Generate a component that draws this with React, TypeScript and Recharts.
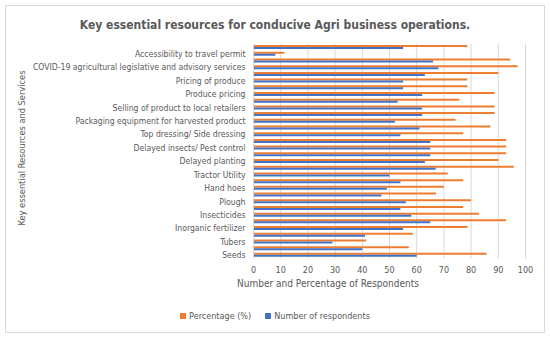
import React from "react";
import { BarChart, Bar, XAxis, YAxis, CartesianGrid } from "recharts";

// bottom-to-top order (as in the source spreadsheet)
const categories = [
  "Seeds",
  "Seedlings",
  "Tubers",
  "Organic fertilizer",
  "Inorganic fertilizer",
  "Pesticides",
  "Insecticides",
  "Herbicides",
  "Plough",
  "Harrow",
  "Hand hoes",
  "Spades",
  "Tractor Utility",
  "Irrigation water",
  "Delayed planting",
  "Delayed weeding",
  "Delayed insects/ Pest control",
  "Delayed harvesting",
  "Top dressing/ Side dressing",
  "Labour",
  "Packaging equipment for harvested product",
  "Storage facilities",
  "Selling of product to local retailers",
  "Selling of product to markets",
  "Produce pricing",
  "Transport to markets",
  "Pricing of produce",
  "Access to credit",
  "COVID-19 agricultural legislative and advisory services",
  "Extension services",
  "Accessibility to travel permit",
  "Access to markets",
];

const percentage = [
  85.7, 57.1, 41.4, 58.6, 78.6, 92.9, 82.9, 77.1, 80, 67.1, 70, 77.1, 71.4, 95.7, 90, 92.9,
  92.9, 92.9, 77.1, 87.1, 74.3, 88.6, 88.6, 75.7, 88.6, 78.6, 78.6, 90, 97.1, 94.3, 11.4, 78.6,
];

const respondents = [
  60, 40, 29, 41, 55, 65, 58, 54, 56, 47, 49, 54, 50, 67, 63, 65,
  65, 65, 54, 61, 52, 62, 62, 53, 62, 55, 55, 63, 68, 66, 8, 55,
];

const xTicks = [0, 10, 20, 30, 40, 50, 60, 70, 80, 90, 100];

const seriesNames = ["Percentage (%)", "Number of respondents"];
const seriesColors = ["#ED7D31", "#4472C4"];

const data = categories.map((name, i) => ({
  name,
  pct: percentage[i],
  num: respondents[i],
}));

const FONT = "'Liberation Sans Narrow', 'DejaVu Sans Condensed', sans-serif";
const GRAY = "#595959";

const CategoryTick = (props: any) => {
  const { x, y, payload } = props;
  return (
    <text x={x} y={y} dy={3} textAnchor="end" fontSize={8.6} fill={GRAY} fontFamily={FONT}>
      {payload.value}
    </text>
  );
};

export default function App() {
  return (
    <div style={{ position: "absolute", left: 0, top: 0, width: 550, height: 337, background: "#fff", fontFamily: FONT }}>
      <div
        style={{
          position: "absolute",
          left: 5,
          top: 5,
          width: 538,
          height: 326,
          border: "1px solid #D9D9D9",
        }}
      />
      <div
        style={{
          position: "absolute",
          left: 0,
          top: 15,
          width: 550,
          textAlign: "center",
          fontWeight: "bold",
          fontSize: 12,
          color: GRAY,
          lineHeight: "20px",
        }}
      >
        Key essential resources for conducive Agri business operations.
      </div>
      <div
        style={{
          position: "absolute",
          left: 22 - 100,
          top: 148 - 7,
          width: 200,
          textAlign: "center",
          fontSize: 9.2,
          color: GRAY,
          lineHeight: "14px",
          whiteSpace: "nowrap",
          transform: "rotate(-90deg)",
          transformOrigin: "100px 7px",
        }}
      >
        Key essential Resources and Services
      </div>
      <div
        style={{
          position: "absolute",
          left: 178,
          top: 277,
          width: 300,
          textAlign: "center",
          fontSize: 10,
          color: GRAY,
          lineHeight: "14px",
        }}
      >
        Number and Percentage of Respondents
      </div>
      <div
        style={{
          position: "absolute",
          left: 0,
          top: 309,
          width: 550,
          display: "flex",
          justifyContent: "center",
          gap: 14,
          fontSize: 9,
          color: GRAY,
          lineHeight: "14px",
        }}
      >
        {seriesNames.map((n, i) => (
          <div key={n} style={{ display: "flex", alignItems: "center" }}>
            <span style={{ display: "inline-block", width: 6, height: 6, background: seriesColors[i], marginRight: 3 }} />
            <span>{n}</span>
          </div>
        ))}
      </div>
      <div style={{ position: "absolute", left: 0, top: 0 }}>
        <BarChart
          width={550}
          height={337}
          data={data}
          layout="vertical"
          margin={{ top: 44, right: 24.5, bottom: 48.5, left: 0 }}
          barCategoryGap="16%"
          barGap={0}
        >
          <CartesianGrid horizontal={false} stroke="#D9D9D9" />
          <XAxis
            type="number"
            domain={[0, 100]}
            ticks={xTicks}
            axisLine={false}
            tickLine={false}
            tick={{ fontSize: 9, fill: GRAY, fontFamily: FONT }}
            height={30}
          />
          <YAxis
            type="category"
            dataKey="name"
            reversed
            interval={1}
            width={253.5}
            axisLine={{ stroke: "#D9D9D9" }}
            tickLine={false}
            tick={<CategoryTick />}
          />
          <Bar dataKey="pct" name={seriesNames[0]} fill={seriesColors[0]} isAnimationActive={false} />
          <Bar dataKey="num" name={seriesNames[1]} fill={seriesColors[1]} isAnimationActive={false} />
        </BarChart>
      </div>
    </div>
  );
}
